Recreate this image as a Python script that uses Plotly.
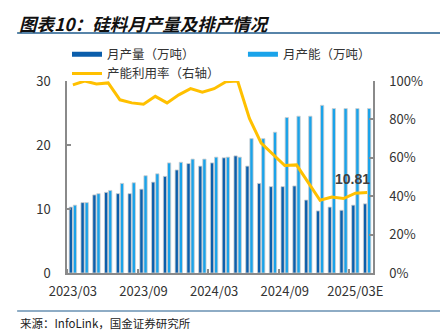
import plotly.graph_objects as go

months = ["2023/03", "2023/04", "2023/05", "2023/06", "2023/07", "2023/08", "2023/09",
          "2023/10", "2023/11", "2023/12", "2024/01", "2024/02", "2024/03", "2024/04",
          "2024/05", "2024/06", "2024/07", "2024/08", "2024/09", "2024/10", "2024/11",
          "2024/12", "2025/01", "2025/02", "2025/03E", "2025/04E"]
output = [10.3, 11.0, 12.2, 12.6, 12.4, 12.4, 13.1, 14.2, 15.1, 16.1, 17.1, 16.7, 17.2,
          18.0, 18.3, 16.7, 14.0, 13.5, 13.5, 13.6, 11.4, 9.7, 10.3, 9.8, 10.6, 10.81]
capacity = [10.6, 11.0, 12.4, 12.9, 14.0, 14.1, 15.2, 15.5, 17.2, 17.3, 17.8, 17.8, 18.1,
            18.1, 18.1, 21.0, 21.0, 22.0, 24.3, 24.5, 24.5, 26.2, 25.7, 25.7, 25.7, 25.7]
util = [98.0, 100.0, 98.5, 99.0, 90.2, 88.6, 87.9, 92.0, 88.6, 92.8, 96.0, 94.2, 96.0,
        99.6, 100.0, 80.5, 67.6, 61.6, 56.0, 56.3, 47.2, 37.9, 39.6, 38.8, 41.6, 41.9]
tick_idx = [0, 6, 12, 18, 24]
tick_text = [months[i] for i in tick_idx]
pct_vals = [0, 20, 40, 60, 80, 100]
pct_text = [f"{v}%" for v in pct_vals]

x = list(range(len(months)))
DARK = "#0b5eab"
LIGHT = "#1aa3ea"
GOLD = "#FFC000"
AXC = "#8a8a8a"
FONT = "Noto Sans CJK SC, Noto Sans, sans-serif"

fig = go.Figure()
fig.add_trace(go.Bar(x=x, y=output, marker=dict(color=DARK, line=dict(color="#cfcfcf", width=0.8)),
                     showlegend=False, name="月产量（万吨）"))
fig.add_trace(go.Bar(x=x, y=capacity, marker=dict(color=LIGHT, line=dict(color="#cfcfcf", width=0.8)),
                     showlegend=False, name="月产能（万吨）"))
# legend proxies
fig.add_trace(go.Scatter(x=[None], y=[None], mode="lines", line=dict(color=DARK, width=5),
                         name="月产量（万吨）", legend="legend"))
fig.add_trace(go.Scatter(x=[None], y=[None], mode="lines", line=dict(color=LIGHT, width=5),
                         name="月产能（万吨）", legend="legend2"))
fig.add_trace(go.Scatter(x=x, y=util, mode="lines", line=dict(color=GOLD, width=3),
                         yaxis="y2", name="产能利用率（右轴）", legend="legend"))

fig.add_annotation(x=x[-1], y=output[-1], xref="x", yref="y", text="<b>10.81</b>",
                   showarrow=False, xanchor="right", yanchor="middle", xshift=5, yshift=25,
                   font=dict(size=14, color="#404040", family="Liberation Sans, Arial, sans-serif"))

# title and source
fig.add_annotation(x=-0.163, y=1.3, xref="paper", yref="paper", xanchor="left", yanchor="middle",
                   text="<b><i>图表10：硅料月产量及排产情况</i></b>", showarrow=False,
                   font=dict(size=17.5, color="#111111", family=FONT))
fig.add_annotation(x=-0.16, y=-0.258, xref="paper", yref="paper", xanchor="left", yanchor="middle",
                   text="来源：InfoLink，国金证券研究所", showarrow=False,
                   font=dict(size=11.5, color="#222222", family=FONT))
fig.add_shape(type="line", xref="paper", yref="paper", x0=-0.163, x1=1.22, y0=1.25, y1=1.25,
              line=dict(color="#1f5b8c", width=1.5))
fig.add_shape(type="line", xref="paper", yref="paper", x0=-0.163, x1=1.22, y0=-0.198, y1=-0.198,
              line=dict(color="#1f5b8c", width=1.2))

leg_common = dict(orientation="v", xanchor="left", yanchor="top",
                  font=dict(size=12.5, color="#333333"), bgcolor="rgba(0,0,0,0)")
fig.update_layout(
    width=440, height=334,
    margin=dict(l=67, r=67, t=81, b=61),
    paper_bgcolor="white", plot_bgcolor="white",
    font=dict(family=FONT, size=13, color="#333333"),
    barmode="group", bargap=0.3, bargroupgap=0.2,
    showlegend=True,
    legend=dict(x=0, y=1.215, **leg_common),
    legend2=dict(x=0.575, y=1.215, **leg_common),
    xaxis=dict(range=[-0.5, 25.5], tickmode="array", tickvals=tick_idx, ticktext=tick_text,
               showgrid=False, zeroline=False, showline=True, linecolor=AXC, linewidth=1.5,
               ticks="", ticklabelstandoff=6,
               minor=dict(tickmode="linear", tick0=-0.5, dtick=6, ticks="inside", ticklen=4,
                          tickcolor=AXC, tickwidth=1.5, showgrid=False)),
    yaxis=dict(range=[0, 30], tickvals=[0, 10, 20, 30], showgrid=False, zeroline=False,
               showline=True, linecolor=AXC, linewidth=1.5, ticks="inside", ticklen=4,
               tickcolor=AXC, tickwidth=1.5, ticklabelstandoff=12),
    yaxis2=dict(range=[0, 100], tickmode="array", tickvals=pct_vals, ticktext=pct_text,
                overlaying="y", side="right", showgrid=False, zeroline=False,
                showline=True, linecolor=AXC, linewidth=1.5, ticks="inside", ticklen=4,
                tickcolor=AXC, tickwidth=1.5, ticklabelstandoff=12),
)

fig.write_html("out.html")
